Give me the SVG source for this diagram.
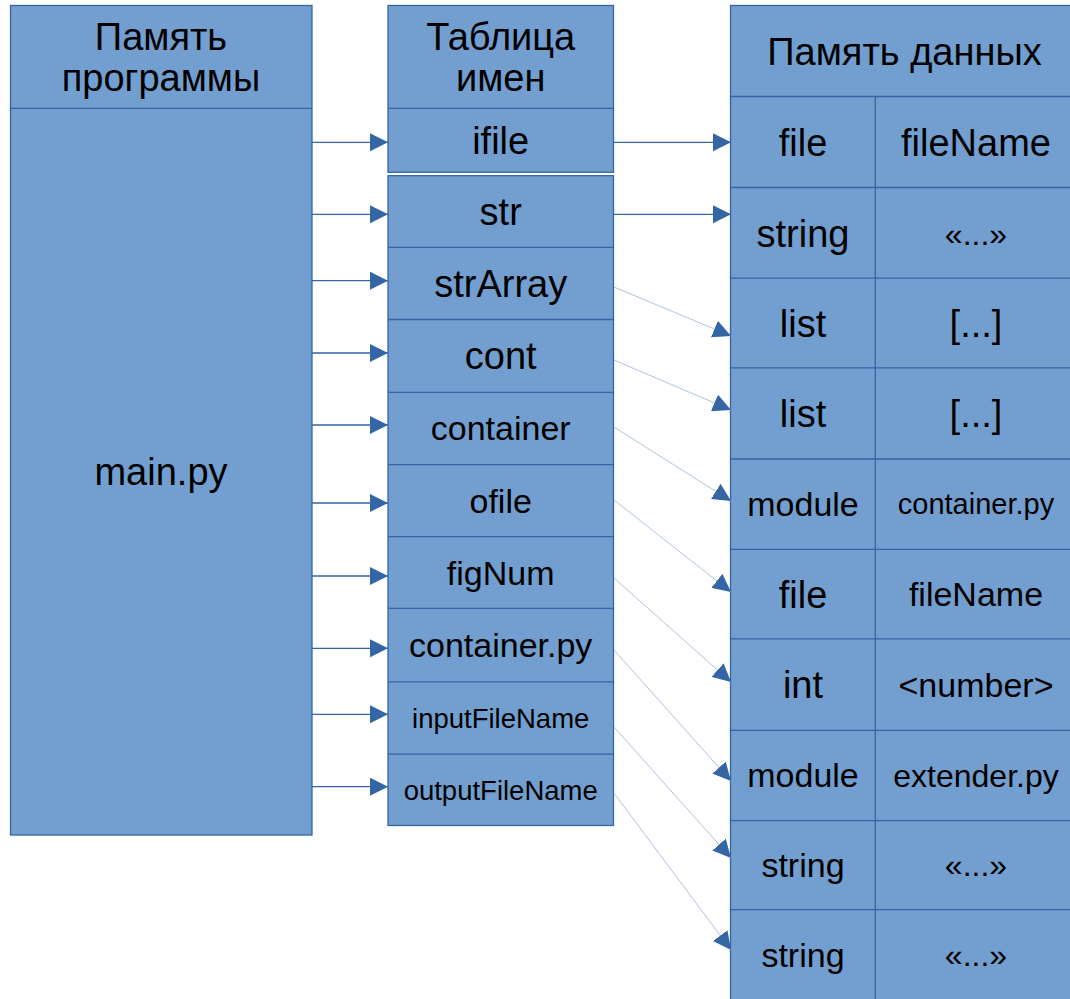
<svg xmlns="http://www.w3.org/2000/svg" width="1070" height="999" viewBox="0 0 1070 999">
<defs>
<style>
.box{fill:#729fcf;stroke:#3465a4;stroke-width:1.3}
.div{stroke:#3465a4;stroke-width:1.3;fill:none}
text{font-family:"Liberation Sans",Arial,sans-serif;fill:#000;text-anchor:middle}
.l{font-size:38px}
.m{font-size:34px}
.q{font-size:32px}
.s{font-size:27.5px}
.h{stroke:#3465a4;stroke-width:1.3;fill:none}
.d{stroke:#aec3de;stroke-width:1;fill:none}
</style>
<marker id="ah" markerUnits="userSpaceOnUse" markerWidth="18" markerHeight="18" refX="18" refY="9" orient="auto" viewBox="0 0 18 18">
<path d="M0,0 L18,9 L0,18 z" fill="#3465a4"/>
</marker>
</defs>
<rect width="1070" height="999" fill="#fff"/>

<g id="program-memory">
<rect class="box" x="10.5" y="5.5" width="301.5" height="829.5"/>
<line class="div" x1="10.5" y1="108.3" x2="312" y2="108.3"/>
<text class="l" x="161" y="50">Память</text>
<text class="l" x="161" y="91">программы</text>
<text class="l" x="161" y="485">main.py</text>
</g>

<g id="names-table-header">
<rect class="box" x="388" y="5.5" width="225.5" height="166.8"/>
<line class="div" x1="388" y1="108.3" x2="613.5" y2="108.3"/>
<text class="l" x="500.7" y="50">Таблица</text>
<text class="l" x="500.7" y="91">имен</text>
<text class="l" x="500.7" y="153.5">ifile</text>
</g>

<g id="names-table">
<rect class="box" x="388" y="175.7" width="225.5" height="649.8"/>
<line class="div" x1="388" y1="247.3" x2="613.5" y2="247.3"/>
<line class="div" x1="388" y1="319.5" x2="613.5" y2="319.5"/>
<line class="div" x1="388" y1="392.3" x2="613.5" y2="392.3"/>
<line class="div" x1="388" y1="464.7" x2="613.5" y2="464.7"/>
<line class="div" x1="388" y1="536.6" x2="613.5" y2="536.6"/>
<line class="div" x1="388" y1="608.4" x2="613.5" y2="608.4"/>
<line class="div" x1="388" y1="681.8" x2="613.5" y2="681.8"/>
<line class="div" x1="388" y1="754.2" x2="613.5" y2="754.2"/>
<text class="l" x="500.7" y="225">str</text>
<text class="l" x="500.7" y="297">strArray</text>
<text class="l" x="500.7" y="369">cont</text>
<text class="m" x="500.7" y="440">container</text>
<text class="m" x="500.7" y="512.5">ofile</text>
<text class="m" x="500.7" y="584.5">figNum</text>
<text class="m" x="500.7" y="657">container.py</text>
<text class="s" x="500.7" y="728">inputFileName</text>
<text class="s" x="500.7" y="800">outputFileName</text>
</g>

<g id="data-memory">
<rect class="box" x="730.5" y="5.5" width="350" height="1000"/>
<line class="div" x1="730.5" y1="96.5" x2="1080" y2="96.5"/>
<line class="div" x1="875.3" y1="96.5" x2="875.3" y2="1005"/>
<line class="div" x1="730.5" y1="187.5" x2="1080" y2="187.5"/>
<line class="div" x1="730.5" y1="278.2" x2="1080" y2="278.2"/>
<line class="div" x1="730.5" y1="367.8" x2="1080" y2="367.8"/>
<line class="div" x1="730.5" y1="459" x2="1080" y2="459"/>
<line class="div" x1="730.5" y1="549.3" x2="1080" y2="549.3"/>
<line class="div" x1="730.5" y1="638.8" x2="1080" y2="638.8"/>
<line class="div" x1="730.5" y1="730.3" x2="1080" y2="730.3"/>
<line class="div" x1="730.5" y1="820.6" x2="1080" y2="820.6"/>
<line class="div" x1="730.5" y1="909.6" x2="1080" y2="909.6"/>
<text class="l" x="904.5" y="64.5">Память данных</text>
<text class="l" x="803" y="155.5">file</text>
<text class="l" x="976" y="155.5">fileName</text>
<text class="l" x="803" y="246.5">string</text>
<text class="q" x="976" y="245">«...»</text>
<text class="l" x="803" y="336.5">list</text>
<text class="l" x="976" y="336.5">[...]</text>
<text class="l" x="803" y="427">list</text>
<text class="l" x="976" y="427">[...]</text>
<text class="m" x="803" y="516">module</text>
<text style="font-size:29px" x="976" y="514">container.py</text>
<text class="l" x="803" y="607.5">file</text>
<text class="m" x="976" y="606">fileName</text>
<text class="l" x="803" y="698">int</text>
<text class="m" x="976" y="696.5">&lt;number&gt;</text>
<text class="m" x="803" y="787">module</text>
<text style="font-size:32px" x="976" y="786.5">extender.py</text>
<text class="m" x="803" y="877">string</text>
<text class="q" x="976" y="876">«...»</text>
<text class="m" x="803" y="967">string</text>
<text class="q" x="976" y="966">«...»</text>
</g>

<g id="connectors">
<line class="h" x1="312" y1="142.3" x2="388" y2="142.3" marker-end="url(#ah)"/>
<line class="h" x1="312" y1="214.3" x2="388" y2="214.3" marker-end="url(#ah)"/>
<line class="h" x1="312" y1="280.7" x2="388" y2="280.7" marker-end="url(#ah)"/>
<line class="h" x1="312" y1="353" x2="388" y2="353" marker-end="url(#ah)"/>
<line class="h" x1="312" y1="425" x2="388" y2="425" marker-end="url(#ah)"/>
<line class="h" x1="312" y1="503" x2="388" y2="503" marker-end="url(#ah)"/>
<line class="h" x1="312" y1="576" x2="388" y2="576" marker-end="url(#ah)"/>
<line class="h" x1="312" y1="648.3" x2="388" y2="648.3" marker-end="url(#ah)"/>
<line class="h" x1="312" y1="714.3" x2="388" y2="714.3" marker-end="url(#ah)"/>
<line class="h" x1="312" y1="786.7" x2="388" y2="786.7" marker-end="url(#ah)"/>
<line class="h" x1="613.5" y1="142.3" x2="731" y2="142.3" marker-end="url(#ah)"/>
<line class="h" x1="613.5" y1="214.3" x2="731" y2="214.3" marker-end="url(#ah)"/>
<line class="d" x1="614" y1="287" x2="731" y2="336" marker-end="url(#ah)"/>
<line class="d" x1="614" y1="360" x2="731" y2="410" marker-end="url(#ah)"/>
<line class="d" x1="614" y1="427" x2="731" y2="501" marker-end="url(#ah)"/>
<line class="d" x1="614" y1="500" x2="731" y2="592" marker-end="url(#ah)"/>
<line class="d" x1="614" y1="578" x2="731" y2="682" marker-end="url(#ah)"/>
<line class="d" x1="614" y1="650" x2="731" y2="781" marker-end="url(#ah)"/>
<line class="d" x1="614" y1="727" x2="731" y2="858" marker-end="url(#ah)"/>
<line class="d" x1="614" y1="793" x2="731" y2="950" marker-end="url(#ah)"/>
</g>
</svg>
